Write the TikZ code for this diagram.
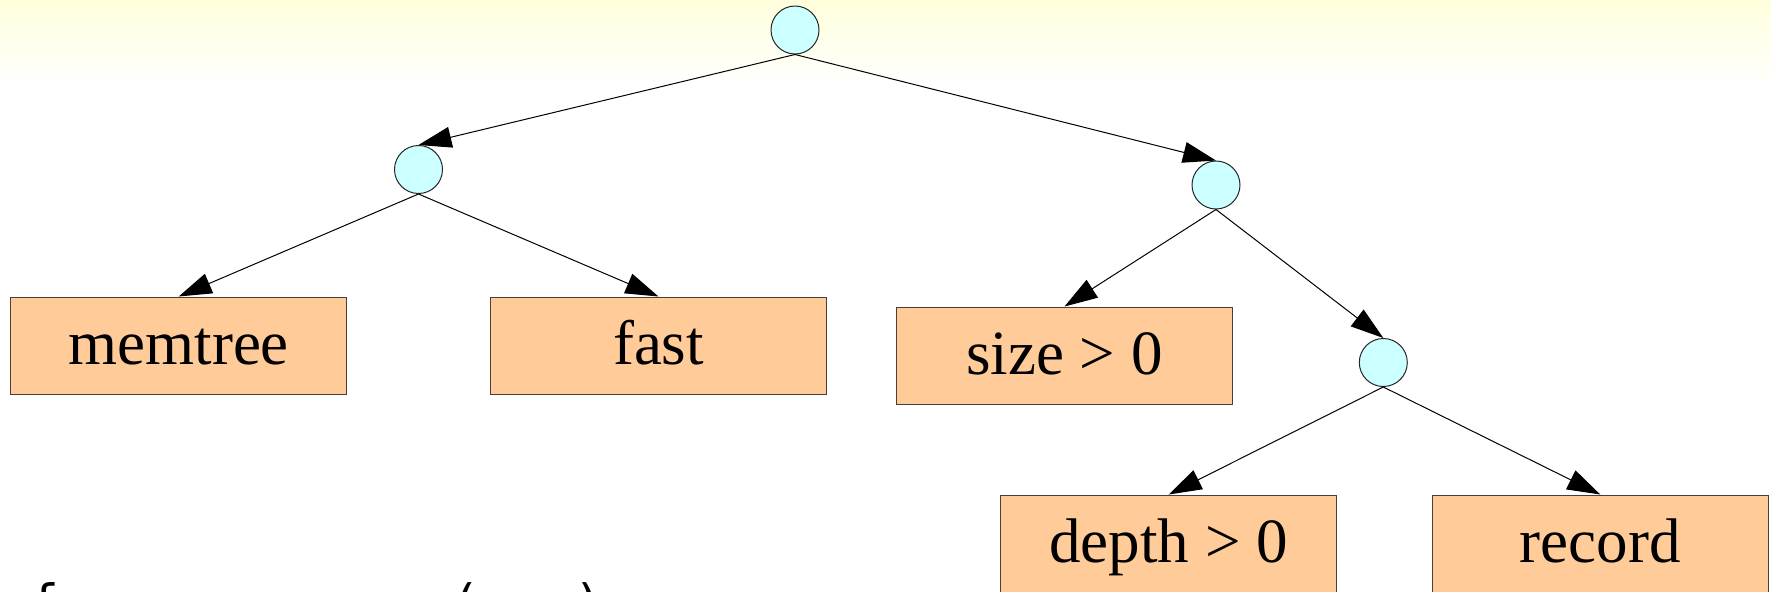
\documentclass[tikz,border=0pt]{standalone}
\usepackage{fontspec}
\setmainfont{Liberation Serif}
\newfontfamily\fragfont{DejaVu Sans}
\usetikzlibrary{arrows.meta}
\definecolor{bgyellow}{HTML}{FFFFDC}
\definecolor{circfill}{HTML}{CCFFFF}
\definecolor{boxfill}{HTML}{FFCC99}
\definecolor{boxline}{HTML}{4A3F35}
\tikzset{
  dot/.style={circle, draw=black!85, line width=0.5pt, fill=circfill, minimum size=24pt, inner sep=0pt},
  leafbox/.style={rectangle, draw=boxline, line width=0.5pt, fill=boxfill, minimum width=168pt, minimum height=48.5pt, inner sep=0pt, text height=24pt, text depth=5.5pt, font=\fontsize{31.5}{36}\selectfont},
  edge/.style={line width=0.5pt, -{Triangle[length=16.5pt, width=10.5pt]}},
  frag/.style={inner sep=0pt, font=\fragfont\fontsize{25}{30}\selectfont}
}
\begin{document}
\begin{tikzpicture}[x=0.5pt, y=-0.5pt]
\useasboundingbox (0,0) rectangle (1771,591);
\clip (0,0) rectangle (1771,591);
\fill[white] (0,0) rectangle (1771,591);
\shade[top color=bgyellow, bottom color=white] (0,0) rectangle (1771,86);

\node[dot] (root) at (795,30) {};
\node[dot] (a) at (418.5,169.5) {};
\node[dot] (b) at (1216,185) {};
\node[dot] (c) at (1383.3,362.5) {};

\node[leafbox] (memtree) at (178.7,345.5) {memtree};
\node[leafbox] (fast) at (658.5,345.5) {fast};
\node[leafbox] (size) at (1064.5,355.5) {size > 0};
\node[leafbox] (depth) at (1168.7,543.5) {depth > 0};
\node[leafbox] (record) at (1600.3,543.5) {record};

\draw[edge] (root.south) -- (a.north);
\draw[edge] (root.south) -- (b.north);
\draw[edge] (a.south) -- (memtree.north);
\draw[edge] (a.south) -- (fast.north);
\draw[edge] (b.south) -- (size.north);
\draw[edge] (b.south) -- (c.north);
\draw[edge] (c.south) -- (depth.north);
\draw[edge] (c.south) -- (record.north);

\node[frag, anchor=north west] (f1) at (36,582) {f};
\node[frag, anchor=north] (f2) at (466,582) {(};
\node[frag, anchor=north] (f3) at (588,582) {)};
\end{tikzpicture}
\end{document}
